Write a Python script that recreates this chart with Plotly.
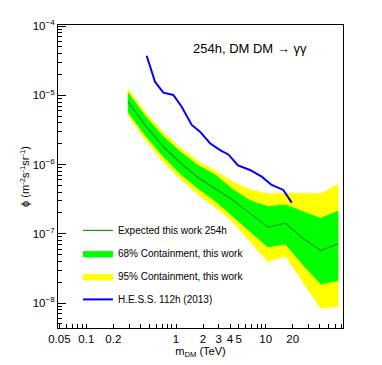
import plotly.graph_objects as go

# DM mass grid of the expected limit bands (TeV)
mass = [0.29, 0.46, 0.72, 1.12, 1.76, 2.75, 4.3, 6.8, 10.6, 16.6, 26, 41, 64]

# expected limit and containment bands (m^-2 s^-1 sr^-1)
expected = [8.14e-6, 3.61e-6, 1.82e-6, 1.055e-6, 6.52e-7, 4.44e-7, 3.08e-7,
            1.94e-7, 1.245e-7, 1.42e-7, 8.64e-8, 5.72e-8, 7.15e-8]
c95_hi = [1.233e-5, 5.55e-6, 2.90e-6, 1.736e-6, 1.108e-6, 8.09e-7, 5.61e-7,
          4.30e-7, 3.77e-7, 3.85e-7, 3.81e-7, 3.77e-7, 5.20e-7]
c68_hi = [1.098e-5, 4.86e-6, 2.54e-6, 1.52e-6, 9.7e-7, 7.08e-7, 4.37e-7,
          2.98e-7, 2.47e-7, 2.61e-7, 2.09e-7, 1.68e-7, 2.12e-7]
c68_lo = [5.84e-6, 2.59e-6, 1.31e-6, 7.32e-7, 4.52e-7, 2.98e-7, 1.81e-7,
          1.065e-7, 6.47e-8, 7.15e-8, 3.59e-8, 1.89e-8, 2.11e-8]
c95_lo = [5.20e-6, 2.26e-6, 1.108e-6, 6.20e-7, 3.70e-7, 2.44e-7, 1.485e-7,
          7.64e-8, 3.97e-8, 4.80e-8, 2.02e-8, 8.39e-9, 8.96e-9]

# H.E.S.S. 112h (2013) limit
hess_mass = [0.471, 0.583, 0.722, 0.933, 1.157, 1.496, 1.852, 2.393, 3.094,
             3.83, 4.91, 6.68, 9.02, 11.67, 15.71, 19.5]
hess_flux = [3.73e-5, 1.57e-5, 1.09e-5, 1.01e-5, 6.85e-6, 3.73e-6, 2.98e-6,
             2.03e-6, 1.62e-6, 1.40e-6, 9.7e-7, 8.36e-7, 6.69e-7, 5.08e-7,
             4.30e-7, 2.82e-7]

# axis ticks
x_labeled = [0.05, 0.1, 0.2, 1, 2, 3, 4, 5, 10, 20]
x_minor = [0.06, 0.07, 0.08, 0.09, 0.3, 0.4, 0.5, 0.6, 0.7, 0.8, 0.9,
           6, 7, 8, 9, 30, 40, 50, 60, 70]
x_decades = [0.1, 1, 10]
y_decades = [1e-8, 1e-7, 1e-6, 1e-5, 1e-4]
y_labels = ["10<sup>−8</sup>", "10<sup>−7</sup>", "10<sup>−6</sup>",
            "10<sup>−5</sup>", "10<sup>−4</sup>"]
y_minor = [m * d for d in [1e-9, 1e-8, 1e-7, 1e-6, 1e-5] for m in range(2, 10)]

FONT = "Liberation Sans, Arial, sans-serif"


def band(lo, hi):
    return mass + mass[::-1], hi + lo[::-1]


fig = go.Figure()

bx, by = band(c95_lo, c95_hi)
fig.add_trace(go.Scatter(x=bx, y=by, fill="toself", fillcolor="#ffff00",
                         mode="lines", line=dict(width=0.8, color="#ffff00"),
                         name="95% Containment, this work",
                         legendgroup="c", legendrank=3))
bx, by = band(c68_lo, c68_hi)
fig.add_trace(go.Scatter(x=bx, y=by, fill="toself", fillcolor="#00ff00",
                         mode="lines", line=dict(width=0.8, color="#00ff00"),
                         name="68% Containment, this work",
                         legendgroup="b", legendrank=2))
fig.add_trace(go.Scatter(x=mass, y=expected, mode="lines",
                         line=dict(color="#139a13", width=1.2),
                         name="Expected this work 254h",
                         legendgroup="a", legendrank=1))
fig.add_trace(go.Scatter(x=hess_mass, y=hess_flux, mode="lines",
                         line=dict(color="#0000ff", width=2),
                         name="H.E.S.S. 112h (2013)",
                         legendgroup="d", legendrank=4))

xrange_log = [-1.316, 1.862]
yrange_log = [-8.36, -3.985]

# page body adds an 8px offset, so the figure is 8px smaller than the window
fig.update_layout(
    width=374, height=357,
    margin=dict(l=50, r=39, t=17, b=37),
    paper_bgcolor="white", plot_bgcolor="white",
    font=dict(family=FONT, size=11, color="black"),
    xaxis=dict(
        type="log", range=xrange_log,
        tickmode="array", tickvals=x_labeled,
        ticktext=[str(v) for v in x_labeled],
        tickangle=0, automargin=False,
        ticks="inside", ticklen=4, tickcolor="black",
        minor=dict(tickmode="array", tickvals=x_minor, ticks="inside",
                   ticklen=4, tickcolor="black", showgrid=False),
        showgrid=False, zeroline=False,
        showline=True, linecolor="black", linewidth=1, mirror=True,
        tickfont=dict(size=11.5),
        title=dict(text="m<sub>DM</sub> (TeV)", font=dict(size=11), standoff=2),
    ),
    xaxis2=dict(
        type="log", range=xrange_log, overlaying="x", anchor="y", side="bottom",
        tickmode="array", tickvals=x_decades, ticks="inside", ticklen=8,
        tickcolor="black", showticklabels=False, showgrid=False,
        zeroline=False, showline=False,
    ),
    yaxis=dict(
        type="log", range=yrange_log, automargin=False,
        tickmode="array", tickvals=y_decades, ticktext=y_labels,
        ticks="inside", ticklen=8, tickcolor="black",
        minor=dict(tickmode="array", tickvals=y_minor, ticks="inside",
                   ticklen=4, tickcolor="black", showgrid=False),
        showgrid=False, zeroline=False,
        showline=True, linecolor="black", linewidth=1, mirror=True,
        tickfont=dict(size=11.5),
        title=dict(text="ϕ (m<sup>-2</sup>s<sup>-1</sup>sr<sup>-1</sup>)",
                   font=dict(size=11), standoff=0),
    ),
    legend=dict(x=0.07, y=0.37, xanchor="left", yanchor="top",
                bgcolor="rgba(0,0,0,0)", font=dict(size=10),
                traceorder="grouped", tracegroupgap=4),
    showlegend=True,
    annotations=[dict(text="254h, DM DM → γγ", xref="paper", yref="paper",
                      x=0.672, y=0.924, xanchor="center", yanchor="middle",
                      showarrow=False, font=dict(size=13))],
)

fig.write_html("out.html")
